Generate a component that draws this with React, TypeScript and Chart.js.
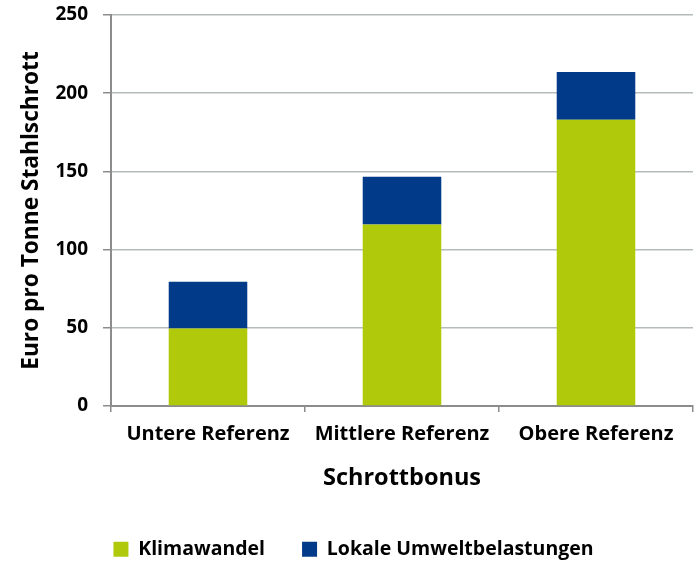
import React, { useEffect, useRef } from "react";
import { Chart, registerables } from "chart.js";

Chart.register(...registerables);

const categories = ["Untere Referenz", "Mittlere Referenz", "Obere Referenz"];
const seriesNames = ["Klimawandel", "Lokale Umweltbelastungen"];
const klimawandel = [49.5, 116, 183];
const lokaleUmwelt = [30, 30.5, 30.5];
const yMin = 0;
const yMax = 250;
const yStep = 50;
const yTitle = "Euro pro Tonne Stahlschrott";
const xTitle = "Schrottbonus";

const GREEN = "#B0CA0B";
const BLUE = "#003A88";
const FONT = "'Open Sans', sans-serif";

export default function App() {
  const ref = useRef<HTMLCanvasElement | null>(null);

  useEffect(() => {
    if (!ref.current) return;
    const chart = new Chart(ref.current, {
      type: "bar",
      data: {
        labels: categories,
        datasets: [
          {
            label: seriesNames[0],
            data: klimawandel,
            backgroundColor: GREEN,
            categoryPercentage: 1,
            barPercentage: 0.405,
          },
          {
            label: seriesNames[1],
            data: lokaleUmwelt,
            backgroundColor: BLUE,
            categoryPercentage: 1,
            barPercentage: 0.405,
          },
        ],
      },
      options: {
        animation: false,
        responsive: false,
        maintainAspectRatio: false,
        layout: { padding: { left: 14, right: 5, top: 15, bottom: -8 } },
        plugins: {
          tooltip: { enabled: false },
          legend: {
            position: "bottom",
            labels: {
              boxWidth: 15,
              boxHeight: 15,
              padding: 37,
              color: "#000",
              font: { family: FONT, size: 19.5, weight: "bold" },
            },
          },
        },
        scales: {
          x: {
            stacked: true,
            offset: true,
            grid: {
              offset: true,
              drawOnChartArea: false,
              drawTicks: true,
              tickLength: 6,
              color: "#8C8C8C",
              lineWidth: 1.5,
            },
            border: { display: true, color: "#8C8C8C", width: 2 },
            ticks: {
              color: "#000",
              padding: 10,
              maxRotation: 0,
              font: { family: FONT, size: 20, weight: "bold" },
            },
            title: {
              display: true,
              text: xTitle,
              color: "#000",
              padding: { top: 4, bottom: 10.5 },
              font: { family: FONT, size: 23.5, weight: "bold" },
            },
            afterFit: (s: any) => {
              s.height = 96.5;
              s.paddingRight = 0;
              s.paddingLeft = 0;
            },
          },
          y: {
            stacked: true,
            min: yMin,
            max: yMax,
            ticks: {
              stepSize: yStep,
              color: "#000",
              padding: 15,
              font: { family: FONT, size: 19, weight: "bold" },
            },
            grid: {
              color: "#B4BBB8",
              lineWidth: 1.5,
              drawTicks: true,
              tickLength: 8,
              tickColor: "#8C8C8C",
            },
            border: { display: true, color: "#8C8C8C", width: 2 },
            title: {
              display: true,
              text: yTitle,
              color: "#000",
              padding: { top: 4, bottom: 0 },
              font: { family: FONT, size: 22.7, weight: "bold" },
            },
            afterFit: (s: any) => {
              s.width = 97;
              s.paddingTop = 0;
              s.paddingBottom = 0;
            },
          },
        },
      },
    });
    return () => chart.destroy();
  }, []);

  return (
    <div style={{ position: "fixed", left: 0, top: 0, width: 698, height: 561, background: "#fff" }}>
      <canvas ref={ref} width={698} height={561} style={{ width: 698, height: 561, display: "block" }} />
    </div>
  );
}
